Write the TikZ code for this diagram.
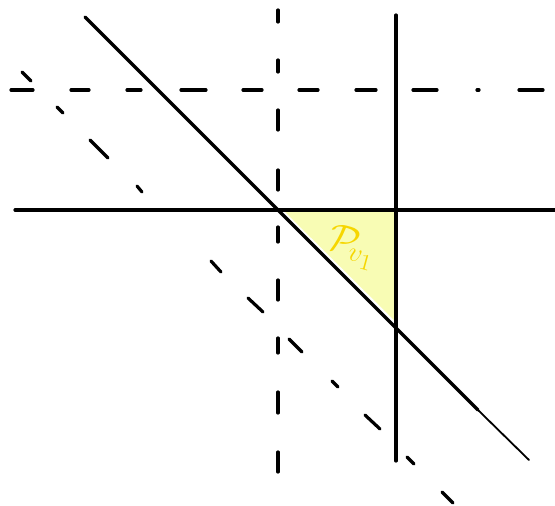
\documentclass[tikz,border=0pt]{standalone}
\usepackage{amsmath}
\definecolor{triyellow}{RGB}{248,252,180}
\definecolor{labelyellow}{RGB}{246,214,0}
\tikzset{
  pen/.style={line width=3.2pt, line cap=round, black},
  thinpen/.style={line width=1.8pt, line cap=round, black},
  dashpen/.style={line width=3.2pt, line cap=round, black}
}
\begin{document}
\begin{tikzpicture}[x=1pt,y=-1pt]
\useasboundingbox (0,0) rectangle (555,506);
% shaded region
\fill[triyellow] (283,210) -- (397,210) -- (396,322) -- cycle;
% solid lines
\draw[pen] (15,210) -- (555,210);
\draw[pen] (396,15) -- (396,461);
\draw[pen] (85,17) -- (478,410);
\draw[thinpen] (478,410) -- (529,460);
% vertical dashed line
\foreach \a/\b in {10/22,60/72,110/130,170/190,227/242,280/300,338/353,392/413,452/472}
  \draw[dashpen] (278,\a) -- (278,\b);
% horizontal dash-dot line
\foreach \a/\b in {11/33,71/89,127/141,181/206,243/262,299/318,356/376,413/437,477/479,519/543}
  \draw[dashpen] (\a,90) -- (\b,90);
% diagonal dash-dot line
\foreach \xa/\ya/\xb/\yb in {22/72/31/81,57/107/63/113,90/140/108/158,137/186/142/192,211/261/221/272,248/298/263/312,289/339/302/352,332/381/338/387,365/415/380/429,407/457/414/464,442/492/453/503}
  \draw[dashpen] (\xa,\ya) -- (\xb,\yb);
% label
\node[labelyellow, rotate=-15, font=\huge, scale=1.9, inner sep=0pt] (lab) at (352,247) {$\mathcal{P}_{\!v_1}$};
\end{tikzpicture}
\end{document}
